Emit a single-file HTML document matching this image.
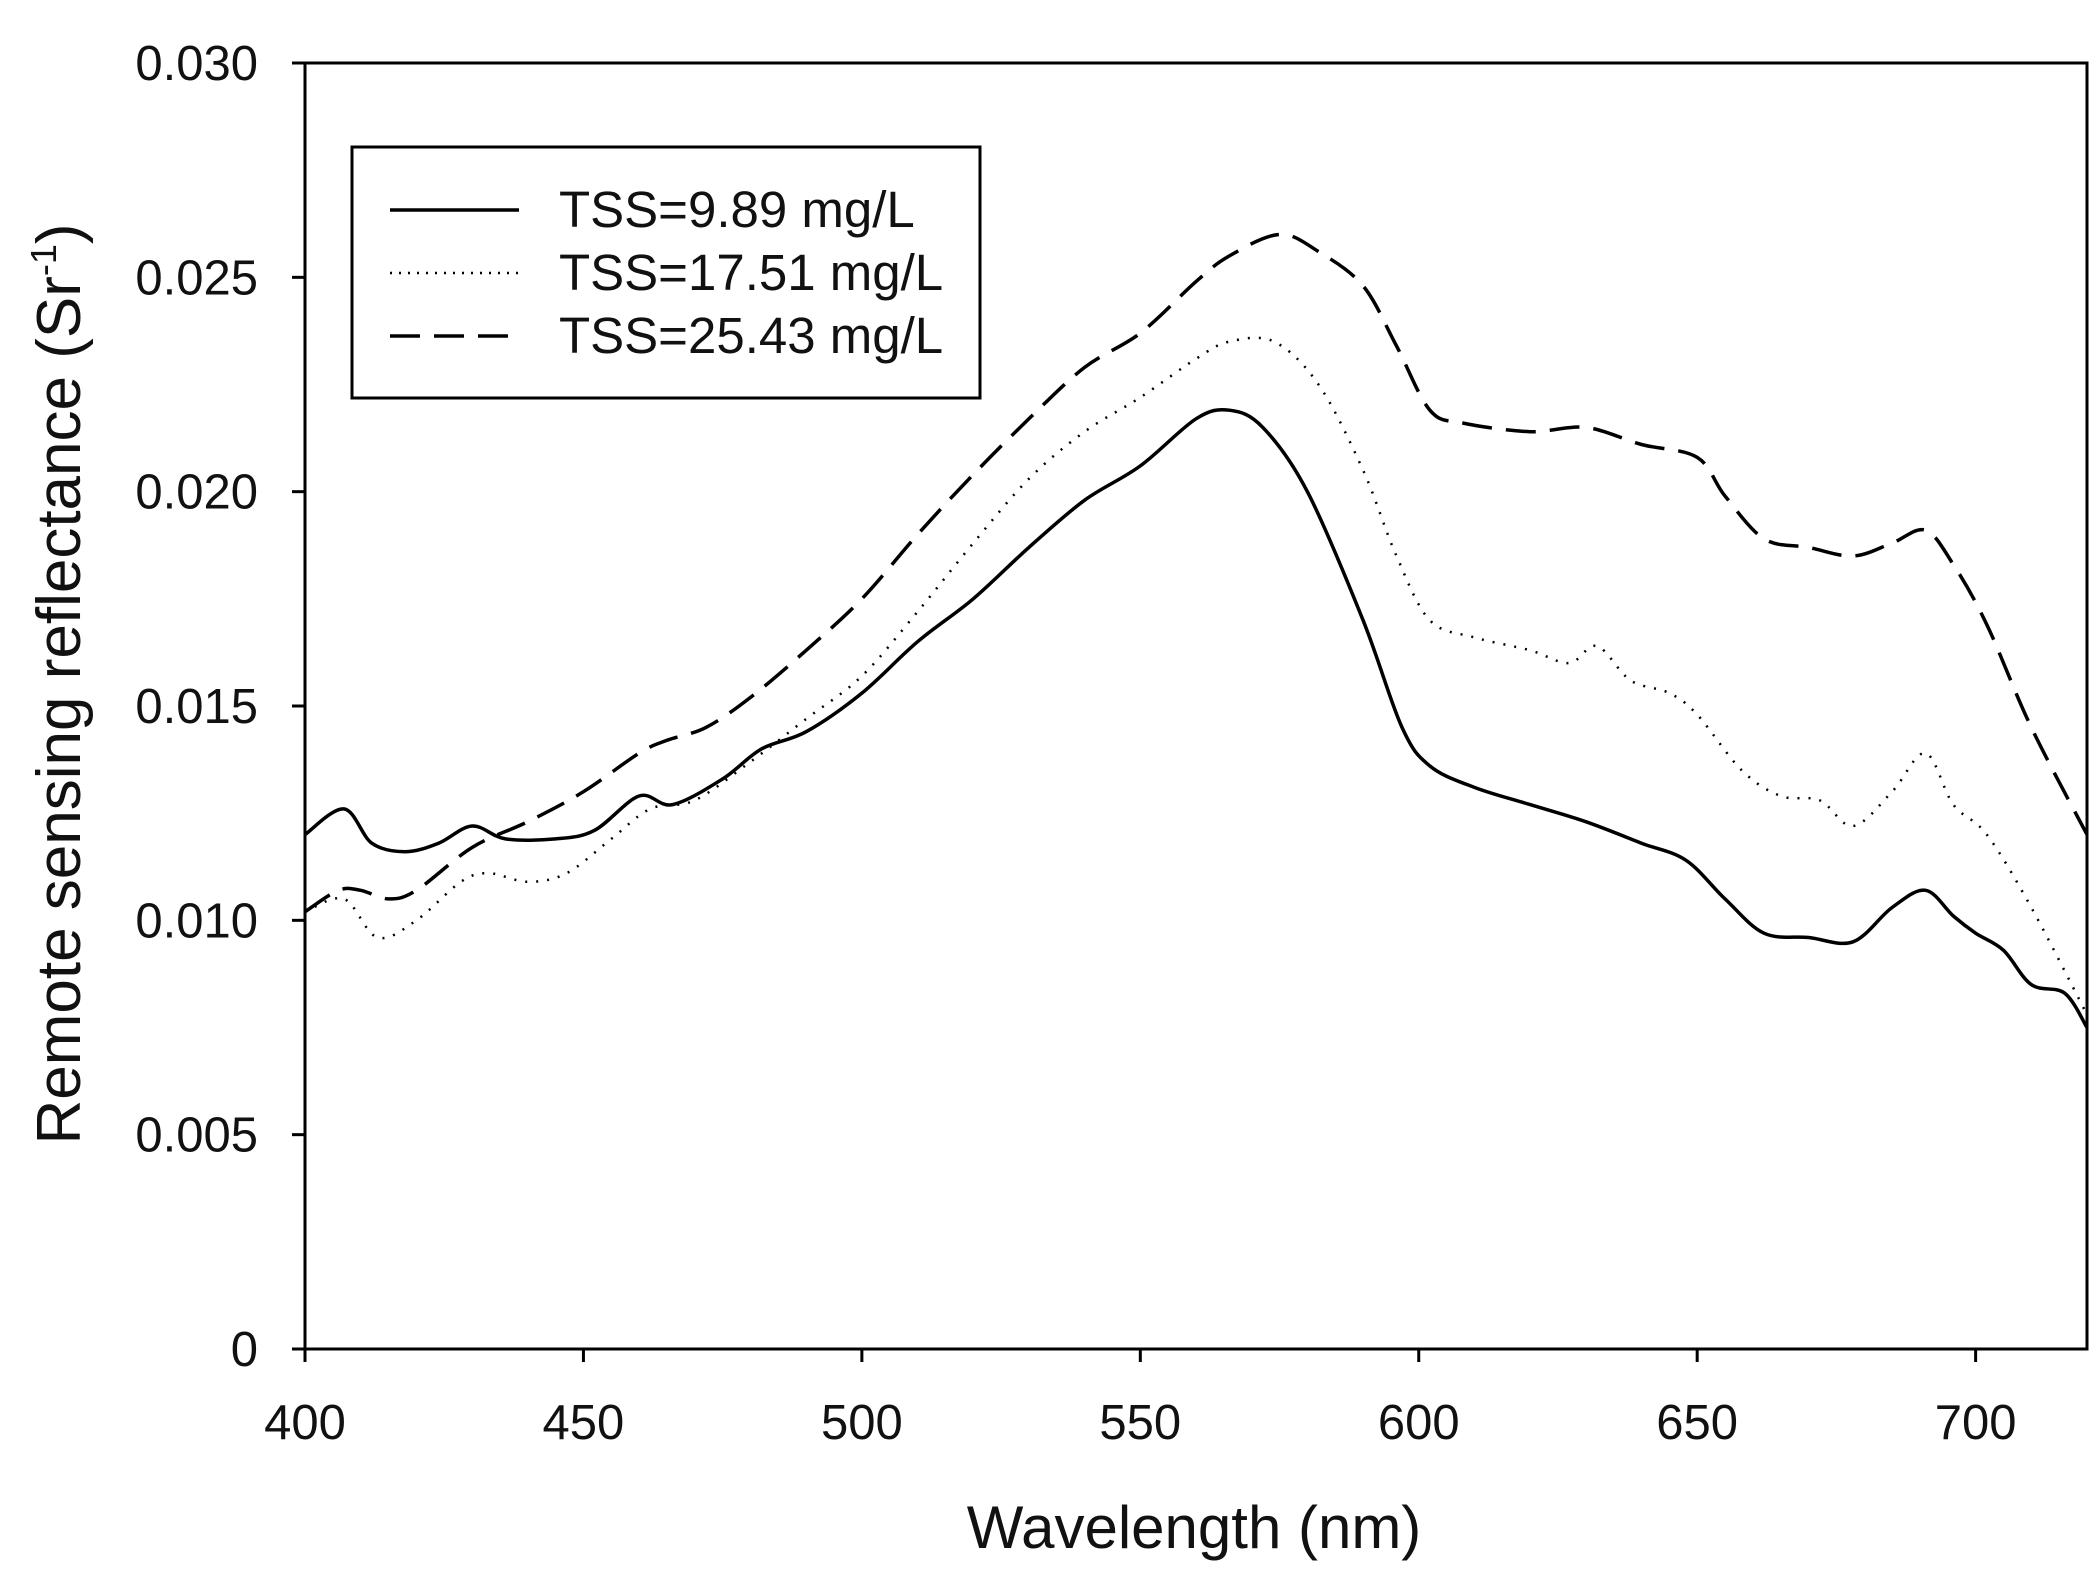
<!DOCTYPE html>
<html><head><meta charset="utf-8"><style>
html,body{margin:0;padding:0;background:#fff;}
svg{display:block;font-family:"Liberation Sans",Arial,sans-serif;}
</style></head><body>
<svg id="s" width="2096" height="1577" viewBox="0 0 2096 1577" xmlns="http://www.w3.org/2000/svg">
<rect width="2096" height="1577" fill="#fff"/>
<g id="ax" stroke="#000" stroke-width="3" fill="none">
<rect x="305" y="63" width="1782" height="1286"/>
</g>
<g id="lbl" font-size="49" fill="#111"></g>
<text x="1194" y="1548" font-size="60" text-anchor="middle" fill="#111">Wavelength (nm)</text>
<text transform="translate(80,684) rotate(-90)" font-size="62" text-anchor="middle" fill="#111">Remote sensing reflectance (Sr<tspan dy="-24" font-size="36">-1</tspan><tspan dy="24">)</tspan></text>
<g id="series" fill="none" stroke="#000"></g>
<rect x="352" y="147" width="628" height="251" fill="#fff" stroke="#000" stroke-width="3"/>
<line x1="390" y1="210" x2="519" y2="210" stroke="#000" stroke-width="3.5"/>
<line x1="390" y1="273" x2="519" y2="273" stroke="#000" stroke-width="2.5" stroke-dasharray="2 7"/>
<line x1="390" y1="336" x2="519" y2="336" stroke="#000" stroke-width="3.5" stroke-dasharray="30 14"/>
<g font-size="51" fill="#111">
<text x="559" y="227">TSS=9.89 mg/L</text>
<text x="559" y="290">TSS=17.51 mg/L</text>
<text x="559" y="353">TSS=25.43 mg/L</text>
</g>
</svg>
<script>
var NS="http://www.w3.org/2000/svg";
function X(n){return 305+(n-400)*1782/320;}
function Y(v){return 1349-v*1286/0.030;}
var ax=document.getElementById("ax"),lbl=document.getElementById("lbl");
function el(p,t,a){var e=document.createElementNS(NS,t);for(var k in a)e.setAttribute(k,a[k]);p.appendChild(e);return e;}
for(var n=400;n<=700;n+=50){var x=X(n);el(ax,"line",{x1:x,y1:1349,x2:x,y2:1362});var t=el(lbl,"text",{x:x,y:1439,"text-anchor":"middle"});t.textContent=n;}
var yl=["0","0.005","0.010","0.015","0.020","0.025","0.030"];
for(var i=0;i<=6;i++){var y=Y(i*0.005);el(ax,"line",{x1:292,y1:y,x2:305,y2:y});var t=el(lbl,"text",{x:258,y:y+17,"text-anchor":"end"});t.textContent=yl[i];}
var s1=[[400,.0120],[407,.0126],[412,.0118],[418,.0116],[424,.0118],[430,.0122],[436,.0119],[445,.0119],[452,.0121],[460,.0129],[466,.0127],[475,.0133],[482,.0140],[490,.0144],[500,.0153],[510,.0165],[520,.0175],[530,.0187],[540,.0198],[550,.0206],[560,.0217],[566,.0219],[572,.0215],[580,.0200],[590,.0170],[597,.0145],[602,.0136],[610,.0131],[620,.0127],[630,.0123],[640,.0118],[648,.0114],[655,.0105],[662,.0097],[670,.0096],[678,.0095],[685,.0103],[691,.0107],[696,.0101],[700,.0097],[705,.0093],[710,.0085],[716,.0083],[720,.0075]];
var s2=[[400,.0102],[407,.0105],[413,.0096],[420,.0100],[428,.0109],[433,.0111],[440,.0109],[447,.0111],[455,.0119],[462,.0126],[470,.0128],[480,.0137],[490,.0147],[500,.0157],[510,.0172],[520,.0188],[530,.0203],[540,.0214],[550,.0222],[560,.0231],[566,.0235],[574,.0235],[582,.0225],[590,.0205],[596,.0185],[602,.0170],[610,.0166],[620,.0163],[627,.0160],[632,.0164],[638,.0156],[645,.0153],[650,.0148],[658,.0135],[665,.0129],[672,.0128],[678,.0122],[685,.0130],[691,.0139],[696,.0127],[702,.0120],[710,.0103],[720,.0078]];
var s3=[[400,.0102],[406,.0107],[410,.0107],[415,.0105],[420,.0107],[430,.0117],[440,.0123],[450,.0130],[460,.0139],[465,.0142],[472,.0145],[480,.0152],[490,.0163],[500,.0175],[510,.0190],[520,.0204],[530,.0217],[540,.0229],[550,.0237],[560,.0249],[566,.0255],[575,.0260],[582,.0256],[590,.0248],[596,.0234],[602,.0219],[608,.0216],[620,.0214],[630,.0215],[640,.0211],[650,.0208],[655,.0199],[662,.0189],[670,.0187],[678,.0185],[685,.0188],[691,.0191],[696,.0183],[702,.0169],[710,.0145],[720,.0120]];
function path(d){var P=d.map(function(q){return [X(q[0]),Y(q[1])];});var p="M"+P[0][0].toFixed(1)+","+P[0][1].toFixed(1);
for(var i=0;i<P.length-1;i++){var p0=P[Math.max(i-1,0)],p1=P[i],p2=P[i+1],p3=P[Math.min(i+2,P.length-1)];
var c1=[p1[0]+(p2[0]-p0[0])/6,p1[1]+(p2[1]-p0[1])/6],c2=[p2[0]-(p3[0]-p1[0])/6,p2[1]-(p3[1]-p1[1])/6];
p+=" C"+c1[0].toFixed(1)+","+c1[1].toFixed(1)+" "+c2[0].toFixed(1)+","+c2[1].toFixed(1)+" "+p2[0].toFixed(1)+","+p2[1].toFixed(1);}
return p;}
var g=document.getElementById("series");
el(g,"path",{d:path(s1),"stroke-width":3.5,"stroke-linejoin":"round"});
el(g,"path",{d:path(s2),"stroke-width":2.5,"stroke-dasharray":"2 9"});
el(g,"path",{d:path(s3),"stroke-width":3.5,"stroke-dasharray":"30 14"});
</script>
</body></html>
